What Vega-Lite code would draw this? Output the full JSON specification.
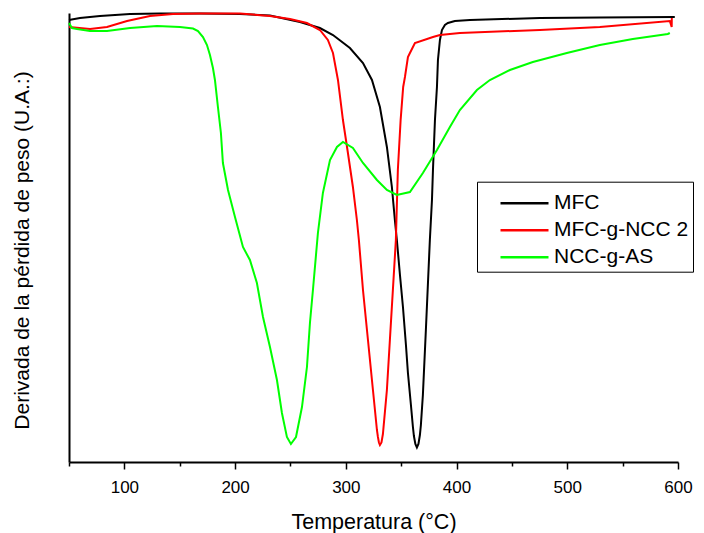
{
  "$schema": "https://vega.github.io/schema/vega-lite/v6.json",
  "autosize": "none",
  "width": 609,
  "height": 449,
  "padding": {"left": 69, "top": 13, "right": 26, "bottom": 71},
  "background": "white",
  "config": {
    "view": {"stroke": null},
    "font": "Liberation Sans"
  },
  "datasets": {
    "curves": [
      {"s":"MFC","i":1,"T":50,"v":442},{"s":"MFC","i":2,"T":59.9,"v":444},{"s":"MFC","i":3,"T":78,"v":446},{"s":"MFC","i":4,"T":105.1,"v":448},{"s":"MFC","i":5,"T":132.2,"v":448.5},{"s":"MFC","i":6,"T":168.3,"v":448.5},{"s":"MFC","i":7,"T":204.4,"v":448},{"s":"MFC","i":8,"T":231.5,"v":446.5},{"s":"MFC","i":9,"T":258.6,"v":440},{"s":"MFC","i":10,"T":276.6,"v":434},{"s":"MFC","i":11,"T":288.4,"v":427},{"s":"MFC","i":12,"T":303.7,"v":414},{"s":"MFC","i":13,"T":315.5,"v":399},{"s":"MFC","i":14,"T":323.6,"v":382},{"s":"MFC","i":15,"T":330.8,"v":355},{"s":"MFC","i":16,"T":337.1,"v":315},{"s":"MFC","i":17,"T":341.6,"v":275},{"s":"MFC","i":18,"T":344.3,"v":242},{"s":"MFC","i":19,"T":346.1,"v":222},{"s":"MFC","i":20,"T":348.9,"v":187},{"s":"MFC","i":21,"T":351.6,"v":155},{"s":"MFC","i":22,"T":354.3,"v":117},{"s":"MFC","i":23,"T":356.1,"v":89},{"s":"MFC","i":24,"T":358.8,"v":57},{"s":"MFC","i":25,"T":360.6,"v":35},{"s":"MFC","i":26,"T":361.5,"v":26},{"s":"MFC","i":27,"T":362.8,"v":18},{"s":"MFC","i":28,"T":364.2,"v":14.5},{"s":"MFC","i":29,"T":365.6,"v":18},{"s":"MFC","i":30,"T":366.9,"v":27},{"s":"MFC","i":31,"T":367.8,"v":37},{"s":"MFC","i":32,"T":369.6,"v":67},{"s":"MFC","i":33,"T":372.3,"v":132},{"s":"MFC","i":34,"T":374.1,"v":177},{"s":"MFC","i":35,"T":375.9,"v":222},{"s":"MFC","i":36,"T":377.8,"v":262},{"s":"MFC","i":37,"T":378.7,"v":292},{"s":"MFC","i":38,"T":380.5,"v":342},{"s":"MFC","i":39,"T":382.3,"v":375},{"s":"MFC","i":40,"T":383.2,"v":402},{"s":"MFC","i":41,"T":385,"v":422},{"s":"MFC","i":42,"T":386.8,"v":432},{"s":"MFC","i":43,"T":389.5,"v":437},{"s":"MFC","i":44,"T":392.2,"v":439},{"s":"MFC","i":45,"T":398.5,"v":441},{"s":"MFC","i":46,"T":412.1,"v":442},{"s":"MFC","i":47,"T":475.3,"v":444},{"s":"MFC","i":48,"T":529.4,"v":444.5},{"s":"MFC","i":49,"T":597.1,"v":445},
      {"s":"MFC-g-NCC 2","i":1,"T":50,"v":435},{"s":"MFC-g-NCC 2","i":2,"T":69,"v":433},{"s":"MFC-g-NCC 2","i":3,"T":84.3,"v":435},{"s":"MFC-g-NCC 2","i":4,"T":102.4,"v":441},{"s":"MFC-g-NCC 2","i":5,"T":123.1,"v":446},{"s":"MFC-g-NCC 2","i":6,"T":143.9,"v":448},{"s":"MFC-g-NCC 2","i":7,"T":168.3,"v":448.5},{"s":"MFC-g-NCC 2","i":8,"T":204.4,"v":448.5},{"s":"MFC-g-NCC 2","i":9,"T":231.5,"v":446},{"s":"MFC-g-NCC 2","i":10,"T":249.6,"v":443},{"s":"MFC-g-NCC 2","i":11,"T":264.9,"v":439},{"s":"MFC-g-NCC 2","i":12,"T":276.6,"v":432},{"s":"MFC-g-NCC 2","i":13,"T":283.8,"v":422},{"s":"MFC-g-NCC 2","i":14,"T":288.4,"v":409},{"s":"MFC-g-NCC 2","i":15,"T":292.9,"v":382},{"s":"MFC-g-NCC 2","i":16,"T":297.4,"v":342},{"s":"MFC-g-NCC 2","i":17,"T":301.9,"v":309},{"s":"MFC-g-NCC 2","i":18,"T":306.4,"v":275},{"s":"MFC-g-NCC 2","i":19,"T":310,"v":242},{"s":"MFC-g-NCC 2","i":20,"T":311.8,"v":222},{"s":"MFC-g-NCC 2","i":21,"T":315.5,"v":172},{"s":"MFC-g-NCC 2","i":22,"T":320,"v":122},{"s":"MFC-g-NCC 2","i":23,"T":324.5,"v":72},{"s":"MFC-g-NCC 2","i":24,"T":328.1,"v":32},{"s":"MFC-g-NCC 2","i":25,"T":329,"v":25},{"s":"MFC-g-NCC 2","i":26,"T":329.9,"v":19.5},{"s":"MFC-g-NCC 2","i":27,"T":330.8,"v":17},{"s":"MFC-g-NCC 2","i":28,"T":332.2,"v":19.5},{"s":"MFC-g-NCC 2","i":29,"T":333.5,"v":28},{"s":"MFC-g-NCC 2","i":30,"T":337.1,"v":72},{"s":"MFC-g-NCC 2","i":31,"T":339.8,"v":122},{"s":"MFC-g-NCC 2","i":32,"T":342.5,"v":172},{"s":"MFC-g-NCC 2","i":33,"T":345.2,"v":222},{"s":"MFC-g-NCC 2","i":34,"T":347,"v":292},{"s":"MFC-g-NCC 2","i":35,"T":349.5,"v":342},{"s":"MFC-g-NCC 2","i":36,"T":351.8,"v":375},{"s":"MFC-g-NCC 2","i":37,"T":353.4,"v":385},{"s":"MFC-g-NCC 2","i":38,"T":356.1,"v":405},{"s":"MFC-g-NCC 2","i":39,"T":357.9,"v":409},{"s":"MFC-g-NCC 2","i":40,"T":362.4,"v":419},{"s":"MFC-g-NCC 2","i":41,"T":378.7,"v":425},{"s":"MFC-g-NCC 2","i":42,"T":385,"v":427},{"s":"MFC-g-NCC 2","i":43,"T":403,"v":429},{"s":"MFC-g-NCC 2","i":44,"T":475.3,"v":432},{"s":"MFC-g-NCC 2","i":45,"T":529.4,"v":435},{"s":"MFC-g-NCC 2","i":46,"T":592.6,"v":441},{"s":"MFC-g-NCC 2","i":47,"T":594.3,"v":435},{"s":"MFC-g-NCC 2","i":48,"T":594.4,"v":444},
      {"s":"NCC-g-AS","i":1,"T":50,"v":439},{"s":"NCC-g-AS","i":2,"T":52.7,"v":434},{"s":"NCC-g-AS","i":3,"T":57.2,"v":433},{"s":"NCC-g-AS","i":4,"T":69,"v":431},{"s":"NCC-g-AS","i":5,"T":84.3,"v":431},{"s":"NCC-g-AS","i":6,"T":105.1,"v":434},{"s":"NCC-g-AS","i":7,"T":129.5,"v":436},{"s":"NCC-g-AS","i":8,"T":150.2,"v":435},{"s":"NCC-g-AS","i":9,"T":162,"v":433.5},{"s":"NCC-g-AS","i":10,"T":166.5,"v":431},{"s":"NCC-g-AS","i":11,"T":171,"v":425},{"s":"NCC-g-AS","i":12,"T":174.6,"v":417},{"s":"NCC-g-AS","i":13,"T":177.3,"v":407},{"s":"NCC-g-AS","i":14,"T":180,"v":394},{"s":"NCC-g-AS","i":15,"T":181.8,"v":382},{"s":"NCC-g-AS","i":16,"T":184.5,"v":355},{"s":"NCC-g-AS","i":17,"T":187.2,"v":329},{"s":"NCC-g-AS","i":18,"T":189,"v":299},{"s":"NCC-g-AS","i":19,"T":193.6,"v":272},{"s":"NCC-g-AS","i":20,"T":199.9,"v":245},{"s":"NCC-g-AS","i":21,"T":207.1,"v":215},{"s":"NCC-g-AS","i":22,"T":213.4,"v":202},{"s":"NCC-g-AS","i":23,"T":219.7,"v":179},{"s":"NCC-g-AS","i":24,"T":225.2,"v":145},{"s":"NCC-g-AS","i":25,"T":231.5,"v":115},{"s":"NCC-g-AS","i":26,"T":237.8,"v":82},{"s":"NCC-g-AS","i":27,"T":242.3,"v":49},{"s":"NCC-g-AS","i":28,"T":246.8,"v":25},{"s":"NCC-g-AS","i":29,"T":250.4,"v":18},{"s":"NCC-g-AS","i":30,"T":255,"v":25},{"s":"NCC-g-AS","i":31,"T":260.4,"v":55},{"s":"NCC-g-AS","i":32,"T":264.9,"v":95},{"s":"NCC-g-AS","i":33,"T":267.6,"v":139},{"s":"NCC-g-AS","i":34,"T":270.3,"v":172},{"s":"NCC-g-AS","i":35,"T":274.8,"v":229},{"s":"NCC-g-AS","i":36,"T":279.3,"v":269},{"s":"NCC-g-AS","i":37,"T":285.7,"v":302},{"s":"NCC-g-AS","i":38,"T":292,"v":315},{"s":"NCC-g-AS","i":39,"T":297.4,"v":320},{"s":"NCC-g-AS","i":40,"T":306.4,"v":314},{"s":"NCC-g-AS","i":41,"T":315.5,"v":299},{"s":"NCC-g-AS","i":42,"T":328.1,"v":282},{"s":"NCC-g-AS","i":43,"T":337.1,"v":272},{"s":"NCC-g-AS","i":44,"T":346.1,"v":267},{"s":"NCC-g-AS","i":45,"T":357.9,"v":270},{"s":"NCC-g-AS","i":46,"T":369.6,"v":289},{"s":"NCC-g-AS","i":47,"T":382.3,"v":312},{"s":"NCC-g-AS","i":48,"T":394,"v":335},{"s":"NCC-g-AS","i":49,"T":403,"v":352},{"s":"NCC-g-AS","i":50,"T":418.4,"v":372},{"s":"NCC-g-AS","i":51,"T":430.1,"v":382},{"s":"NCC-g-AS","i":52,"T":448.2,"v":392},{"s":"NCC-g-AS","i":53,"T":468.9,"v":400},{"s":"NCC-g-AS","i":54,"T":499.6,"v":409},{"s":"NCC-g-AS","i":55,"T":529.4,"v":417},{"s":"NCC-g-AS","i":56,"T":559.2,"v":423},{"s":"NCC-g-AS","i":57,"T":590.8,"v":428},{"s":"NCC-g-AS","i":58,"T":592.6,"v":429}
    ]
  },
  "data": {"name": "curves"},
  "mark": {"type": "line", "strokeWidth": 2, "clip": false},
  "encoding": {
    "x": {
      "field": "T", "type": "quantitative",
      "scale": {"domain": [50, 600], "nice": false, "zero": false},
      "axis": {
        "title": "Temperatura (°C)",
        "values": [50,100,150,200,250,300,350,400,450,500,550,600],
        "labelExpr": "datum.value % 100 === 0 ? datum.label : ''",
        "tickSize": {"condition": {"test": "datum.value % 100 === 0", "value": 7}, "value": 4},
        "tickColor": "black", "tickWidth": 1.5,
        "domainColor": "black", "domainWidth": 2,
        "grid": false,
        "labelFont": "Liberation Sans", "labelFontSize": 17, "labelColor": "black",
        "labelBaseline": "alphabetic", "labelPadding": 23,
        "labelFlush": false,
        "titleFont": "Liberation Sans", "titleFontSize": 21.5, "titleFontWeight": "normal", "titleColor": "black",
        "titleBaseline": "alphabetic", "titleY": 66, "titleX": 304.5, "titleAlign": "center"
      }
    },
    "y": {
      "field": "v", "type": "quantitative",
      "scale": {"domain": [0, 449], "nice": false, "zero": false},
      "axis": {
        "title": "Derivada de la pérdida de peso (U.A.:)",
        "labels": false, "ticks": false, "grid": false,
        "domainColor": "black", "domainWidth": 2,
        "titleFont": "Liberation Sans", "titleFontSize": 21, "titleFontWeight": "normal", "titleColor": "black",
        "titleAngle": 270, "titleBaseline": "alphabetic", "titleAlign": "center",
        "titleX": -41, "titleY": 237
      }
    },
    "order": {"field": "i", "type": "quantitative"},
    "color": {
      "field": "s", "type": "nominal",
      "scale": {"domain": ["MFC", "MFC-g-NCC 2", "NCC-g-AS"], "range": ["#000000", "#ff0000", "#00ff00"]},
      "legend": {
        "title": " ",
        "titleFontSize": 6,
        "titlePadding": 1,
        "orient": "none",
        "legendX": 408,
        "legendY": 168.7,
        "padding": 4,
        "strokeColor": "black",
        "fillColor": "white",
        "cornerRadius": 0,
        "symbolType": "M -4.8 0 H 4.8",
        "symbolSize": 100,
        "symbolStrokeWidth": 2.5,
        "symbolOffset": 33,
        "labelOffset": 19,
        "labelFont": "Liberation Sans",
        "labelFontSize": 21,
        "labelColor": "black",
        "rowPadding": 5
      }
    }
  }
}
